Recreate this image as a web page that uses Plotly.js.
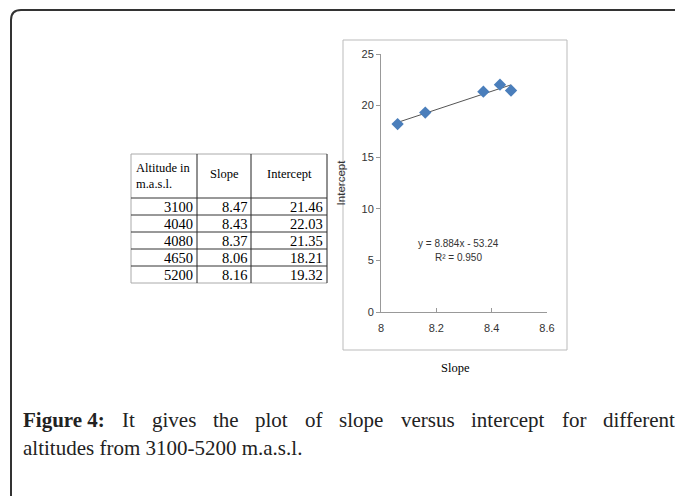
<!DOCTYPE html>
<html>
<head>
<meta charset="utf-8">
<script src="https://cdn.plot.ly/plotly-3.0.1.min.js"></script>
<style>
html,body{margin:0;padding:0;background:#fff;}
#chart{width:675px;height:496px;}
</style>
</head>
<body>
<div id="chart"></div>
<script>
// ---- data ----
var altitudes = [3100, 4040, 4080, 4650, 5200];
var slopes = [8.47, 8.43, 8.37, 8.06, 8.16];
var intercepts = [21.46, 22.03, 21.35, 18.21, 19.32];
var tableHeaders = ["Altitude in<br>m.a.s.l.", "Slope", "Intercept"];
var trendX = [8.06, 8.47];
var trendY = [18.37, 22.01];
var equationText = "y = 8.884x - 53.24";
var r2Text = "R\u00B2 = 0.950";
var xTickVals = [8, 8.2, 8.4, 8.6];
var xTickText = ["8", "8.2", "8.4", "8.6"];
var yTickVals = [0, 5, 10, 15, 20, 25];
var captionLabel = "Figure 4:";
var captionLine1 = "It gives the plot of slope versus intercept for different";
var captionLine2 = "altitudes from 3100-5200 m.a.s.l.";

// ---- layout helpers (pixel -> paper) ----
var W = 675, H = 496;
function px(x){ return x / W; }
function py(y){ return 1 - y / H; }

var serif = "Liberation Serif, Times New Roman, serif";
var capFont = "Liberation Serif";
var capSize = 21;
var sans = "Liberation Sans, Arial, sans-serif";

var shapes = [];
var annotations = [];

// chart frame
shapes.push({type: "rect", xref: "paper", yref: "paper", x0: px(343), x1: px(567), y0: py(350), y1: py(40),
  line: {color: "#bbb", width: 1}, fillcolor: "rgba(0,0,0,0)", layer: "below"});
// outer rounded frame
shapes.push({type: "path", xref: "paper", yref: "paper",
  path: "M " + px(11) + " " + py(496) + " L " + px(11) + " " + py(20) +
        " Q " + px(11) + " " + py(10) + " " + px(21) + " " + py(10) +
        " L " + px(675) + " " + py(10),
  line: {color: "#333", width: 2}});

// ---- table (built from the data arrays) ----
var colEdges = [131, 197, 251, 327];
var headTop = 154, headBottom = 198, rowH = 17;
var nRows = altitudes.length;
var tableBottom = headBottom + nRows * rowH;
function hline(y, x0, x1, color){
  shapes.push({type: "line", xref: "paper", yref: "paper", x0: px(x0), x1: px(x1), y0: py(y), y1: py(y),
    line: {color: color, width: 1}});
}
function vline(x, y0, y1, color){
  shapes.push({type: "line", xref: "paper", yref: "paper", x0: px(x), x1: px(x), y0: py(y0), y1: py(y1),
    line: {color: color, width: 1}});
}
hline(headTop, colEdges[0], colEdges[3], "#aaa");
hline(tableBottom, colEdges[0], colEdges[3], "#aaa");
vline(colEdges[0], headTop, tableBottom, "#aaa");
for (var c = 1; c < colEdges.length; c++) vline(colEdges[c], headTop, tableBottom, "#222");
for (var r = 0; r < nRows; r++) hline(headBottom + r * rowH, colEdges[0], colEdges[3], "#333");

// header texts
annotations.push({xref: "paper", yref: "paper", x: px(134), y: py(176), text: tableHeaders[0],
  showarrow: false, xanchor: "left", yanchor: "middle", align: "left",
  font: {family: serif, size: 12.5, color: "#000"}});
for (var h = 1; h < tableHeaders.length; h++) {
  annotations.push({xref: "paper", yref: "paper", x: px((colEdges[h] + colEdges[h + 1]) / 2), y: py(174),
    text: tableHeaders[h], showarrow: false, xanchor: "center", yanchor: "middle",
    font: {family: serif, size: 12.5, color: "#000"}});
}
var cols = [altitudes.map(String), slopes.map(function(v){return v.toFixed(2);}),
            intercepts.map(function(v){return v.toFixed(2);})];
for (var ci = 0; ci < cols.length; ci++) {
  for (var ri = 0; ri < nRows; ri++) {
    annotations.push({xref: "paper", yref: "paper", x: px(colEdges[ci + 1] - 2),
      y: py(headBottom + ri * rowH + rowH / 2 + 0.5), text: cols[ci][ri], showarrow: false,
      xanchor: "right", yanchor: "middle", font: {family: serif, size: 14.5, color: "#000"}});
  }
}

// ---- axis label & equation ----
annotations.push({xref: "paper", yref: "paper", x: px(455), y: py(368), text: "Slope", showarrow: false,
  xanchor: "center", yanchor: "middle", font: {family: serif, size: 12.5, color: "#000"}});
annotations.push({xref: "paper", yref: "paper", x: px(458), y: py(243), text: equationText, showarrow: false,
  xanchor: "center", yanchor: "middle", font: {family: sans, size: 10, color: "#333"}});
annotations.push({xref: "paper", yref: "paper", x: px(458), y: py(257), text: r2Text, showarrow: false,
  xanchor: "center", yanchor: "middle", font: {family: sans, size: 10, color: "#333"}});

// ---- caption (first line justified to full width) ----
var cv = document.createElement("canvas").getContext("2d");
function measure(txt, bold){
  cv.font = (bold ? "bold " : "") + capSize + "px '" + capFont + "'";
  return cv.measureText(txt).width;
}
var words = [{t: captionLabel, b: true}].concat(captionLine1.split(" ").map(function(w){return {t: w, b: false};}));
var lineLeft = 22, lineRight = 674;
var total = 0;
words.forEach(function(w){ w.w = measure(w.t, w.b); total += w.w; });
var gap = (lineRight - lineLeft - total) / (words.length - 1);
var cx = lineLeft;
words.forEach(function(w){
  annotations.push({xref: "paper", yref: "paper", x: px(cx), y: py(420),
    text: w.b ? "<b>" + w.t + "</b>" : w.t, showarrow: false, xanchor: "left", yanchor: "middle",
    xshift: -1, font: {family: capFont, size: capSize, color: "#222"}});
  cx += w.w + gap;
});
annotations.push({xref: "paper", yref: "paper", x: px(lineLeft), y: py(448), text: captionLine2, showarrow: false,
  xanchor: "left", yanchor: "middle", xshift: -1, font: {family: capFont, size: capSize, color: "#222"}});

var traces = [
  {
    type: "scatter", mode: "lines", x: trendX, y: trendY,
    line: {color: "#555", width: 1}, hoverinfo: "skip", showlegend: false
  },
  {
    type: "scatter", mode: "markers", x: slopes, y: intercepts,
    marker: {symbol: "diamond", size: 9.5, color: "#4a7ebb"}, showlegend: false
  }
];

var layout = {
  width: W, height: H,
  margin: {l: 0, r: 0, t: 0, b: 0},
  paper_bgcolor: "#fff",
  plot_bgcolor: "rgba(0,0,0,0)",
  showlegend: false,
  xaxis: {
    domain: [px(381), px(547)],
    range: [8, 8.6],
    tickvals: xTickVals, ticktext: xTickText,
    ticks: "inside", ticklen: 4, tickcolor: "#999",
    ticklabelstandoff: 6,
    showline: true, linecolor: "#999", linewidth: 1,
    showgrid: false, zeroline: false,
    tickfont: {family: sans, size: 11, color: "#333"},
    fixedrange: true
  },
  yaxis: {
    domain: [py(312), py(54)],
    range: [0, 25],
    tickvals: yTickVals,
    ticks: "outside", ticklen: 4, tickcolor: "#999",
    showline: true, linecolor: "#999", linewidth: 1,
    showgrid: false, zeroline: false,
    tickfont: {family: sans, size: 11, color: "#333"},
    title: {text: "Intercept", font: {family: sans, size: 11.5, color: "#333"}, standoff: 13},
    fixedrange: true
  },
  shapes: shapes,
  annotations: annotations
};

Plotly.newPlot("chart", traces, layout, {displayModeBar: false, staticPlot: true});
</script>
</body>
</html>
